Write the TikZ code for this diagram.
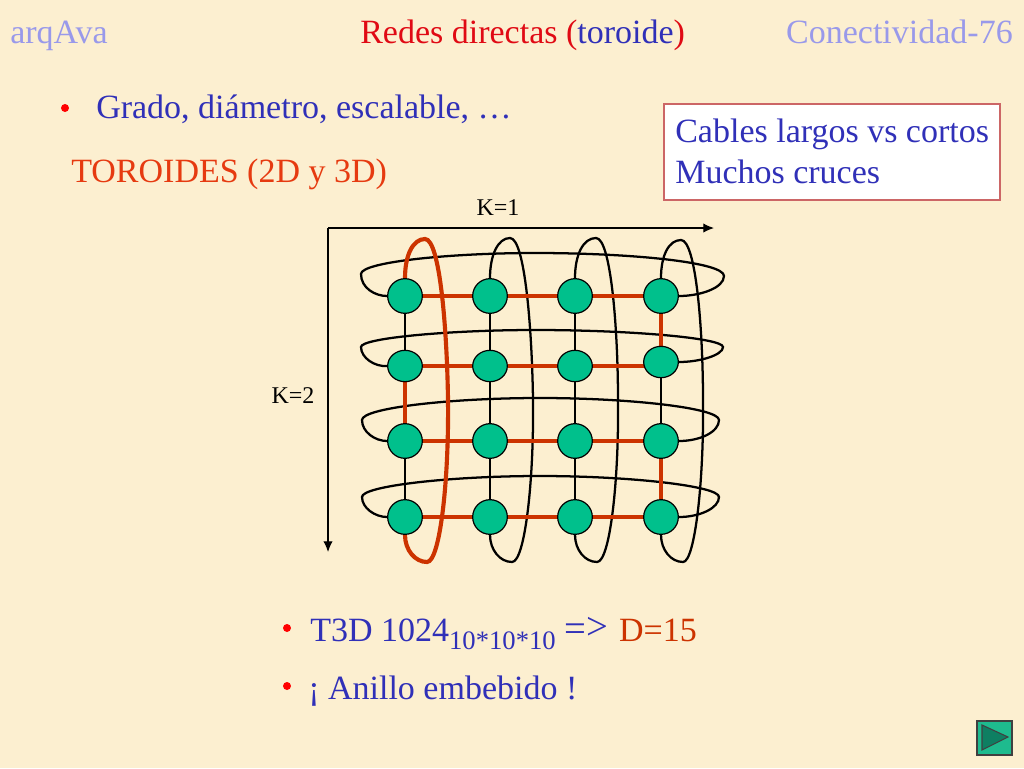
\documentclass[tikz,border=0pt]{standalone}
\usepackage{fontspec}
\setmainfont{Liberation Serif}
\usetikzlibrary{shapes.geometric,arrows.meta,backgrounds}
\definecolor{fondo}{HTML}{FCEFD0}
\definecolor{azul}{HTML}{3030B8}
\definecolor{azulclaro}{HTML}{9999EA}
\definecolor{rojotit}{HTML}{E00A14}
\definecolor{naranja}{HTML}{E63A10}
\definecolor{rojo}{HTML}{CC3300}
\definecolor{borde}{HTML}{CC6666}
\definecolor{verde}{HTML}{00C08C}
\definecolor{verdeboton}{HTML}{1EBB8E}
\definecolor{verdeosc}{HTML}{0E7F62}
\tikzset{
  nodo/.style={circle,draw=black,line width=0.9pt,fill=verde,minimum size=26pt,inner sep=0pt},
  nodoch/.style={ellipse,draw=black,line width=0.9pt,fill=verde,minimum width=26pt,minimum height=23.5pt,inner sep=0pt},
  cable/.style={line width=1.7pt,black},
  anillo/.style={line width=3.1pt,rojo},
  eje/.style={line width=0.9pt,-{Latex[length=8pt,width=7pt]}},
  texto/.style={anchor=base west,inner sep=0pt,font=\fontsize{25.5}{30}\selectfont,text=azul},
  marca/.style={anchor=base,inner sep=0pt,font=\fontsize{18}{20}\selectfont,text=black},
  punto/.style={circle,fill=red,minimum size=6pt,inner sep=0pt}
}
\begin{document}
\begin{tikzpicture}[x=0.75pt,y=-0.75pt]

\useasboundingbox (0,0) rectangle (1024,768);

% Titulos
\node[texto,text=azulclaro] (arq) at (10,43) {arqAva};
\node[texto,text=rojotit] (tit) at (360,43) {Redes directas (\textcolor{azul}{toroide})};
\node[texto,text=azulclaro,anchor=base east] (con) at (1013,43) {Conectividad-76};

% Textos de la izquierda
\node[punto] (p1) at (65,108) {};
\node[texto] (grado) at (96,118) {Grado, diámetro, escalable, …};
\node[texto,text=naranja] (toro) at (71,182) {TOROIDES (2D y 3D)};

% Recuadro
\node[draw=borde,line width=1.2pt,fill=white,minimum width=252pt,minimum height=72pt,inner sep=0pt] (caja) at (832,152) {};
\node[texto] (cab) at (675,142) {Cables largos vs cortos};
\node[texto] (muc) at (675,183) {Muchos cruces};

% Ejes
\coordinate (o) at (328,228);
\coordinate (x1) at (714,228);
\coordinate (y1) at (328,552);
\draw[eje] (o) -- (x1);
\draw[eje] (o) -- (y1);
\node[marca] (k1) at (498,215) {K=1};
\node[marca] (k2) at (293,403) {K=2};

% Nodos
\node[nodo] (n11) at (405,296) {};
\node[nodo] (n12) at (490,296) {};
\node[nodo] (n13) at (575,296) {};
\node[nodo] (n14) at (661,296) {};
\node[nodoch] (n21) at (405,366) {};
\node[nodoch] (n22) at (490,366) {};
\node[nodoch] (n23) at (575,366) {};
\node[nodoch] (n24) at (661,362) {};
\node[nodo] (n31) at (405,441) {};
\node[nodo] (n32) at (490,441) {};
\node[nodo] (n33) at (575,441) {};
\node[nodo] (n34) at (661,441) {};
\node[nodo] (n41) at (405,517) {};
\node[nodo] (n42) at (490,517) {};
\node[nodo] (n43) at (575,517) {};
\node[nodo] (n44) at (661,517) {};

\begin{scope}[on background layer]

% Fondo
\fill[fondo] (0,0) rectangle (1024,768);

% Cables verticales
\draw[cable] (n11) -- (n21);
\draw[cable] (n31) -- (n41);
\draw[cable] (n12) -- (n22) -- (n32) -- (n42);
\draw[cable] (n13) -- (n23) -- (n33) -- (n43);
\draw[cable] (n24) -- (n34);

% Vueltas de columna
\draw[cable] (n12.north) .. controls (490,255) and (498,238) .. (510,238) .. controls (525,238) and (532,330) .. (533,400) .. controls (534,480) and (525,562) .. (512,562) .. controls (500,562) and (490,550) .. (n42.south);
\draw[cable] (n13.north) .. controls (575,255) and (583,238) .. (596,238) .. controls (611,238) and (618,330) .. (618,400) .. controls (619,480) and (610,562) .. (597,562) .. controls (585,562) and (575,550) .. (n43.south);
\draw[cable] (n14.north) .. controls (661,255) and (669,240) .. (681,240) .. controls (696,240) and (703,330) .. (703,400) .. controls (704,480) and (695,562) .. (683,562) .. controls (671,562) and (661,550) .. (n44.south);

% Vueltas de fila
\draw[cable] (n11.west) .. controls (375,296) and (361,288) .. (361,274) .. controls (361,262) and (450,253) .. (535,253) .. controls (630,253) and (724,262) .. (724,276) .. controls (724,288) and (700,296) .. (n14.east);
\draw[cable] (n21.west) .. controls (375,367) and (361,358) .. (361,347) .. controls (361,338) and (450,330) .. (535,330) .. controls (630,330) and (723,338) .. (723,347) .. controls (723,355) and (700,362) .. (n24.east);
\draw[cable] (n31.west) .. controls (375,441) and (362,432) .. (362,420) .. controls (362,408) and (450,398) .. (540,398) .. controls (630,398) and (719,408) .. (719,420) .. controls (719,432) and (700,441) .. (n34.east);
\draw[cable] (n41.west) .. controls (375,517) and (362,508) .. (362,497) .. controls (362,486) and (450,476) .. (540,476) .. controls (630,476) and (719,486) .. (719,497) .. controls (719,508) and (700,517) .. (n44.east);

% Anillo embebido
\draw[anillo] (n11) -- (n12) -- (n13) -- (n14) -- (n24);
\draw[anillo] (n24 |- n23) -- (n23) -- (n22) -- (n21) -- (n31) -- (n32) -- (n33) -- (n34) -- (n44) -- (n43) -- (n42) -- (n41);
\draw[anillo] (n11.north) .. controls (405,255) and (413,239) .. (425,239) .. controls (440,239) and (447,330) .. (448,400) .. controls (449,480) and (440,562) .. (427,562) .. controls (415,562) and (405,550) .. (n41.south);

\end{scope}

% Textos de abajo
\node[punto] (p2) at (287,628) {};
\node[texto] (t3d) at (310,641) {T3D 1024\raisebox{-6pt}{\fontsize{20}{22}\selectfont 10*10*10} {\fontsize{29}{30}\selectfont =\raisebox{1pt}{>}}\hspace{2pt} \textcolor{rojo}{D=15}};
\node[punto] (p3) at (287,686) {};
\node[texto] (ani) at (308,699) {¡ Anillo embebido !};

% Boton
\coordinate (b1) at (982,725);
\coordinate (b2) at (982,750);
\coordinate (b3) at (1008,737);
\filldraw[fill=verdeboton,draw=black!75,line width=0.9pt] (977,721) rectangle (1012,755);
\filldraw[fill=verdeosc,draw=black!75,line width=0.8pt] (b1) -- (b2) -- (b3) -- cycle;

\end{tikzpicture}
\end{document}
